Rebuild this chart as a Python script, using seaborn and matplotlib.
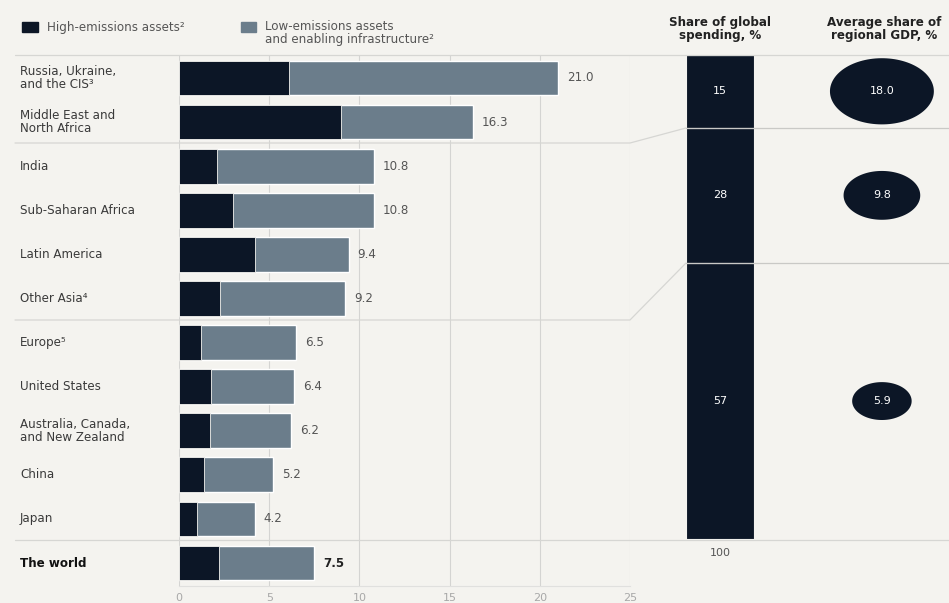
import numpy as np
import pandas as pd
import matplotlib
matplotlib.use("Agg")
import matplotlib.pyplot as plt
import matplotlib.transforms as mtransforms
import seaborn as sns

# ---------------- data ----------------
categories = ["Russia, Ukraine,\nand the CIS\u00b3", "Middle East and\nNorth Africa", "India",
              "Sub-Saharan Africa", "Latin America", "Other Asia\u2074", "Europe\u2075",
              "United States", "Australia, Canada,\nand New Zealand", "China", "Japan", "The world"]
totals = [21.0, 16.3, 10.8, 10.8, 9.4, 9.2, 6.5, 6.4, 6.2, 5.2, 4.2, 7.5]
high_emissions = [6.1, 9.0, 2.1, 3.0, 4.2, 2.3, 1.2, 1.8, 1.7, 1.4, 1.0, 2.2]
x_ticks = [0, 5, 10, 15, 20, 25]

group_share = [15, 28, 57]          # share of global spending, %
group_gdp = [18.0, 9.8, 5.9]        # average share of regional GDP, %
share_total = 100

# ---------------- style ----------------
BG = "#f4f3ef"
HIGH = "#0c1626"
LOW = "#6b7d8b"
GRID = "#d4d4d2"
TXT = "#3a3a3a"
FS = 8.6

sns.set_theme(style="white")
plt.rcParams["font.family"] = ["DejaVu Sans"]

W, H = 949, 603
fig = plt.figure(figsize=(W / 100, H / 100), dpi=100, facecolor=BG)


def rect(l, t, r, b):
    return [l / W, 1 - b / H, (r - l) / W, (b - t) / H]


# ---------------- left: stacked bars ----------------
ax = fig.add_axes(rect(179, 55, 630, 586))
ax.set_facecolor(BG)
df = pd.DataFrame({"cat": categories, "total": totals, "high": high_emissions})
sns.barplot(data=df, x="total", y="cat", color=LOW, saturation=1, width=0.79,
            orient="h", ax=ax, zorder=3)
sns.barplot(data=df, x="high", y="cat", color=HIGH, saturation=1, width=0.79,
            orient="h", ax=ax, edgecolor=BG, linewidth=0.6, zorder=4)
ax.set_xlim(0, 25)
ax.set_ylim(11.52, -0.52)
ax.set_xticks(x_ticks)
ax.set_xticklabels([str(t) for t in x_ticks], color="#a8a8a8", fontsize=8)
ax.tick_params(axis="x", length=0, pad=5)
ax.set_yticks([])
ax.set_xlabel("")
ax.set_ylabel("")
ax.grid(axis="x", color=GRID, linewidth=0.8, zorder=0)
for s in ["top", "right", "left"]:
    ax.spines[s].set_visible(False)
ax.spines["bottom"].set_color("#e0e0de")
ax.spines["bottom"].set_linewidth(0.8)

for i, t in enumerate(totals):
    last = i == len(totals) - 1
    ax.text(t + 0.5, i, f"{t:.1f}", va="center", ha="left", fontsize=FS,
            color="#222" if last else "#555", fontweight="bold" if last else "normal")

btrans = mtransforms.blended_transform_factory(fig.transFigure, ax.transData)
for i, c in enumerate(categories):
    last = i == len(categories) - 1
    ax.text(20 / W, i, c, transform=btrans, va="center", ha="left", fontsize=FS,
            color="#111" if last else TXT, fontweight="bold" if last else "normal",
            linespacing=1.0)

# ---------------- middle: share of global spending ----------------
ax2 = fig.add_axes(rect(686, 55, 754, 539))
ax2.set_facecolor(BG)
cum = np.cumsum(group_share)
for v in cum[::-1]:
    sns.barplot(x=["all"], y=[v], color=HIGH, saturation=1, width=1.0, ax=ax2,
                edgecolor=BG, linewidth=0.8)
ax2.set_ylim(share_total, 0)
ax2.set_xlim(-0.5, 0.5)
ax2.axis("off")
mids = cum - np.array(group_share) / 2
for m, v in zip(mids, group_share):
    ax2.text(0, m, str(v), color="white", ha="center", va="center", fontsize=8)

# ---------------- right: average share of GDP ----------------
ax3 = fig.add_axes(rect(760, 55, 949, 539))
ax3.patch.set_alpha(0)
ax3.set_ylim(share_total, 0)
ax3.set_xlim(0, 1)
ax3.axis("off")
theta = np.linspace(0, 2 * np.pi, 120)
ell = list(zip(np.cos(theta), np.sin(theta) / 1.57))
sizes = [311 * g for g in group_gdp]
ax3.scatter([0.645] * len(mids), mids, s=sizes, marker=ell, color=HIGH, linewidths=0)
for m, g in zip(mids, group_gdp):
    ax3.text(0.645, m, f"{g:.1f}", color="white", ha="center", va="center", fontsize=8)

# ---------------- overlay: separators, headers, legend ----------------
ov = fig.add_axes([0, 0, 1, 1])
ov.patch.set_alpha(0)
ov.set_xlim(0, W)
ov.set_ylim(H, 0)
ov.axis("off")
lc = dict(color="#d6d6d3", linewidth=0.9)
ov.plot([15, W], [55, 55], **lc)
ov.plot([15, 630, 686], [143, 143, 128], **lc)
ov.plot([686, W], [128, 128], color="#c9c9c6", linewidth=0.9)
ov.plot([15, 630, 686], [320, 320, 263], **lc)
ov.plot([686, W], [263, 263], color="#c9c9c6", linewidth=0.9)
ov.plot([15, W], [540, 540], **lc)

ov.text(720, 553, str(share_total), ha="center", va="center", fontsize=8, color="#555")
ov.text(720, 29, "Share of global\nspending, %", ha="center", va="center", fontsize=8.6,
        fontweight="bold", color="#222", linespacing=1.0)
ov.text(884, 29, "Average share of\nregional GDP, %", ha="center", va="center", fontsize=8.6,
        fontweight="bold", color="#222", linespacing=1.0)

# legend
ov.add_patch(plt.Rectangle((22, 22), 16, 10, color=HIGH))
ov.text(47, 27, "High-emissions assets\u00b2", va="center", ha="left", fontsize=FS, color="#555")
ov.add_patch(plt.Rectangle((241, 22), 15, 10, color=LOW))
ov.text(265, 27, "Low-emissions assets", va="center", ha="left", fontsize=FS, color="#555")
ov.text(265, 40, "and enabling infrastructure\u00b2", va="center", ha="left", fontsize=FS, color="#555")

fig.savefig("out.png", dpi=100, facecolor=BG)
